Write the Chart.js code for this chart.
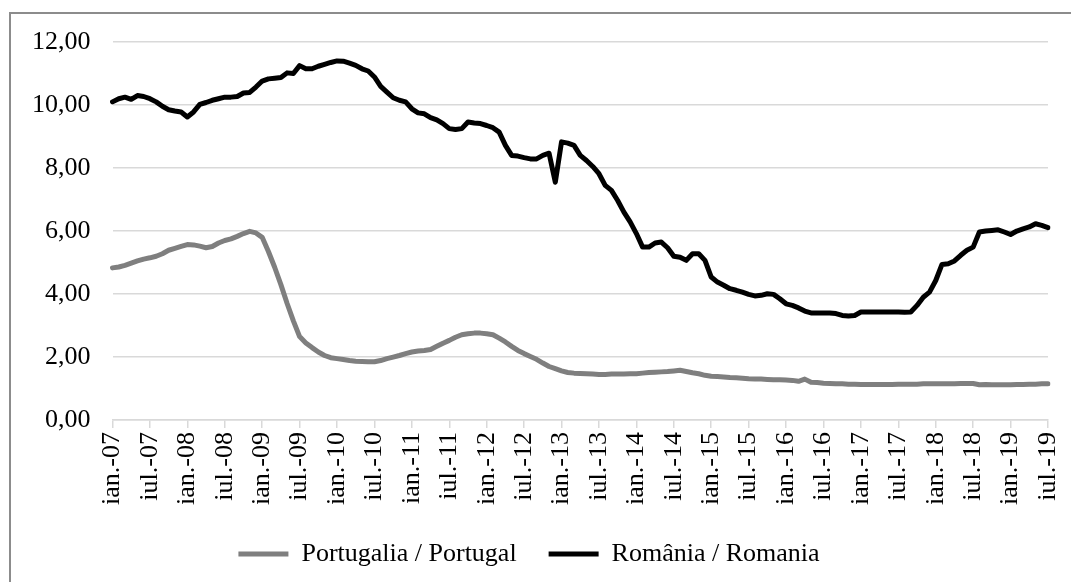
<!DOCTYPE html>
<html>
<head>
<meta charset="utf-8">
<script src="https://cdn.jsdelivr.net/npm/chart.js@4/dist/chart.umd.min.js"></script>
<style>
    html, body { margin: 0; padding: 0; background: #fff; overflow: hidden; }
    #wrap { position: relative; width: 1071px; height: 582px; }
    #frame { position: absolute; left: 9px; top: 12px; width: 1100px; height: 600px; border: 2px solid #8c8c8c; pointer-events: none; }
</style>
</head>
<body>
<div id="wrap">
    <canvas id="rate-chart" width="1071" height="582"></canvas>
    <div id="frame"></div>
</div>
<script>
    // Month labels, ian. 2007 - iul. 2019
    const monthNames = ['ian.', 'feb.', 'mar.', 'apr.', 'mai', 'iun.', 'iul.', 'aug.', 'sept.', 'oct.', 'nov.', 'dec.'];
    const months = [];
    for (let y = 7; y <= 19; y++) {
        for (let m = 0; m < 12; m++) {
            if (y === 19 && m > 6) break;
            months.push(monthNames[m] + '-' + String(y).padStart(2, '0'));
        }
    }

    // Portugalia / Portugal
    const portugal = [
        4.83, 4.86, 4.91, 4.98, 5.05, 5.11, 5.15, 5.20, 5.28, 5.39,
        5.45, 5.51, 5.57, 5.56, 5.52, 5.47, 5.51, 5.62, 5.70, 5.75,
        5.83, 5.92, 5.99, 5.94, 5.80, 5.35, 4.85, 4.30, 3.70, 3.15,
        2.65, 2.45, 2.30, 2.16, 2.05, 1.98, 1.95, 1.92, 1.89, 1.87,
        1.86, 1.85, 1.85, 1.89, 1.95, 2.00, 2.05, 2.11, 2.16, 2.19,
        2.21, 2.24, 2.34, 2.44, 2.53, 2.63, 2.71, 2.74, 2.76, 2.76,
        2.74, 2.71, 2.60, 2.48, 2.34, 2.21, 2.11, 2.02, 1.93, 1.81,
        1.70, 1.63, 1.56, 1.51, 1.49, 1.48, 1.47, 1.46, 1.45, 1.45,
        1.46, 1.46, 1.46, 1.47, 1.47, 1.49, 1.51, 1.52, 1.53, 1.54,
        1.56, 1.58, 1.54, 1.50, 1.47, 1.42, 1.39, 1.38, 1.37, 1.35,
        1.34, 1.33, 1.31, 1.30, 1.30, 1.29, 1.28, 1.28, 1.27, 1.26,
        1.23, 1.30, 1.20, 1.19, 1.17, 1.16, 1.15, 1.15, 1.14, 1.14,
        1.13, 1.13, 1.13, 1.13, 1.13, 1.13, 1.14, 1.14, 1.14, 1.14,
        1.15, 1.15, 1.15, 1.15, 1.15, 1.15, 1.16, 1.16, 1.16, 1.12,
        1.13, 1.12, 1.12, 1.12, 1.12, 1.13, 1.13, 1.14, 1.14, 1.15, 1.15
    ];

    // România / Romania
    const romania = [
        10.10, 10.20, 10.25, 10.18, 10.30, 10.27, 10.20, 10.10, 9.96, 9.85,
        9.81, 9.78, 9.62, 9.78, 10.02, 10.08, 10.15, 10.20, 10.25, 10.25,
        10.27, 10.38, 10.40, 10.57, 10.76, 10.83, 10.85, 10.87, 11.02, 11.00,
        11.25, 11.15, 11.15, 11.23, 11.29, 11.35, 11.40, 11.39, 11.33, 11.26,
        11.15, 11.08, 10.89, 10.59, 10.41, 10.23, 10.15, 10.10, 9.88, 9.75,
        9.72, 9.60, 9.53, 9.41, 9.25, 9.22, 9.25, 9.46, 9.43, 9.41,
        9.35, 9.28, 9.14, 8.72, 8.40, 8.38, 8.33, 8.29, 8.29, 8.40,
        8.47, 7.55, 8.83, 8.79, 8.72, 8.40, 8.24, 8.05, 7.82, 7.45,
        7.29, 6.97, 6.60, 6.29, 5.92, 5.49, 5.49, 5.62, 5.65, 5.47,
        5.20, 5.17, 5.07, 5.28, 5.28, 5.07, 4.54, 4.38, 4.28, 4.17,
        4.12, 4.06, 3.99, 3.94, 3.96, 4.01, 3.99, 3.85, 3.69, 3.64,
        3.56, 3.46, 3.40, 3.40, 3.40, 3.40, 3.38, 3.32, 3.30, 3.32,
        3.43, 3.43, 3.43, 3.43, 3.43, 3.43, 3.43, 3.42, 3.43, 3.64,
        3.90, 4.06, 4.43, 4.94, 4.96, 5.05, 5.23, 5.39, 5.49, 5.97,
        6.00, 6.02, 6.04, 5.97, 5.89, 6.00, 6.07, 6.13, 6.23, 6.18, 6.11
    ];

    const seriesNames = ['Portugalia / Portugal', 'România / Romania'];
    const seriesColors = ['#7f7f7f', '#000000'];

    Chart.defaults.font.family = '"Liberation Serif", "Times New Roman", serif';
    Chart.defaults.font.size = 26;
    Chart.defaults.color = '#000';

    function lineDataset(label, data, color) {
        return {
            label: label,
            data: data,
            borderColor: color,
            backgroundColor: color,
            borderWidth: 5,
            borderJoinStyle: 'round',
            borderCapStyle: 'round',
            pointRadius: 0,
            tension: 0
        };
    }

    const ctx = document.getElementById('rate-chart').getContext('2d');
    new Chart(ctx, {
        type: 'line',
        data: {
            labels: months,
            datasets: [
                lineDataset(seriesNames[0], portugal, seriesColors[0]),
                lineDataset(seriesNames[1], romania, seriesColors[1])
            ]
        },
        options: {
            responsive: false,
            animation: false,
            layout: { padding: { top: 42, left: 10, right: 23, bottom: 5 } },
            scales: {
                x: {
                    offset: false,
                    afterBuildTicks: scale => {
                        scale.ticks = scale.ticks.filter(t => t.value % 6 === 0);
                    },
                    ticks: {
                        autoSkip: false,
                        maxRotation: 90,
                        minRotation: 90,
                        padding: 4,
                        font: { lineHeight: 0.6 }
                    },
                    grid: {
                        drawOnChartArea: false,
                        drawTicks: true,
                        tickLength: 8,
                        color: '#d9d9d9',
                        lineWidth: 1.5
                    },
                    border: { color: '#d9d9d9', width: 1.5 }
                },
                y: {
                    min: 0,
                    max: 12,
                    ticks: {
                        stepSize: 2,
                        padding: 22,
                        callback: v => v.toFixed(2).replace('.', ',')
                    },
                    grid: { color: '#d9d9d9', lineWidth: 1.5, drawTicks: false },
                    border: { display: false }
                }
            },
            plugins: {
                legend: {
                    position: 'bottom',
                    labels: {
                        usePointStyle: true,
                        pointStyle: 'line',
                        pointStyleWidth: 50,
                        padding: 32
                    }
                },
                tooltip: { enabled: false }
            }
        }
    });
</script>
</body>
</html>
